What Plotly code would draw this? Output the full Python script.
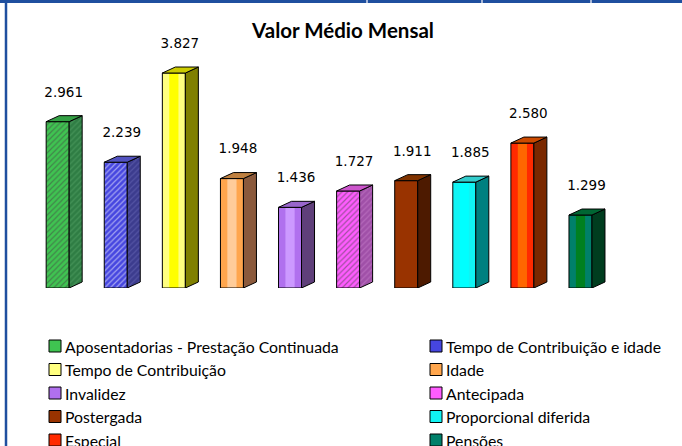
import plotly.graph_objects as go

# ---- data ----
categories = [
    "Aposentadorias - Prestação Continuada",
    "Tempo de Contribuição e idade",
    "Tempo de Contribuição",
    "Idade",
    "Invalidez",
    "Antecipada",
    "Postergada",
    "Proporcional diferida",
    "Especial",
    "Pensões",
]
values = [2961, 2239, 3827, 1948, 1436, 1727, 1911, 1885, 2580, 1299]
title_text = "Valor Médio Mensal"

# ---- styles ----
front_colors = ["#3fc451", "#4646e0", "#ffff80", "#ffa64d", "#b070ee",
                "#ff5cff", "#993300", "#10f4f4", "#ff2a00", "#00806a"]
stripe_colors = [None, None, "#ffff00", "#ffcc99", "#cc99ff",
                 None, None, "#00ffff", "#ff6600", "#008020"]
hatched = [True, True, False, False, False, True, False, False, False, False]
hatch_fg = ["#8ee89a", "#8c8cf0", "#ffffff", "#ffffff", "#ffffff",
            "#ffaaff", "#ffffff", "#ffffff", "#ffffff", "#ffffff"]
side_colors = ["#2f7d44", "#3c3c8e", "#808000", "#8b5a3c", "#5f3f7a",
               "#a050a8", "#4d1a00", "#008080", "#7a2800", "#003d1f"]
side_hatch = ["#5aa86a", "#6a6ab8", None, None, None, "#c880cc", None, None, None, None]
top_colors = ["#33a044", "#5252c0", "#cccc00", "#bf8040", "#9966cc",
              "#cc55cc", "#803300", "#33cccc", "#cc4a00", "#006633"]

W, H = 682, 446
PL, PR, PT, PB = 17, 656, 36, 288
XMIN, XMAX = -0.7, 10.3
YMAX = 4486

unit_x = (PR - PL) / (XMAX - XMIN)
unit_y = (PB - PT) / YMAX
bw = 23 / unit_x        # front width
dx = 13 / unit_x        # depth offset x
dy = 6 / unit_y         # depth offset y


def px_x(px):
    return (px - PL) / (PR - PL)


def px_y(py):
    return (PB - py) / (PB - PT)


idx = list(range(len(values)))
fig = go.Figure()

# front faces
fig.add_trace(go.Bar(
    x=idx, y=values, width=bw,
    marker=dict(color=front_colors, line=dict(width=0),
                pattern=dict(shape=["/" if h else "" for h in hatched],
                             fgcolor=hatch_fg, size=4, solidity=0.3)),
    showlegend=False, hoverinfo="skip"))

# gradient highlight stripes
s_idx = [i for i in idx if stripe_colors[i]]
fig.add_trace(go.Bar(
    x=s_idx, y=[values[i] for i in s_idx], width=bw * 0.4,
    marker=dict(color=[stripe_colors[i] for i in s_idx], line=dict(width=0)),
    showlegend=False, hoverinfo="skip"))

# outlines
fig.add_trace(go.Bar(
    x=idx, y=values, width=bw,
    marker=dict(color="rgba(0,0,0,0)", line=dict(color="black", width=1)),
    showlegend=False, hoverinfo="skip"))

# side and top faces
for i, v in enumerate(values):
    x0 = i + bw / 2
    side = dict(
        x=[x0, x0 + dx, x0 + dx, x0, x0],
        y=[0, dy, v + dy, v, 0],
        mode="lines", fill="toself", fillcolor=side_colors[i],
        line=dict(color="black", width=1),
        showlegend=False, hoverinfo="skip")
    if side_hatch[i]:
        side["fillpattern"] = dict(shape="/", fgcolor=side_hatch[i],
                                   bgcolor=side_colors[i], size=4, solidity=0.3)
    fig.add_trace(go.Scatter(**side))
    xl = i - bw / 2
    fig.add_trace(go.Scatter(
        x=[xl, xl + dx, x0 + dx, x0, xl],
        y=[v, v + dy, v + dy, v, v],
        mode="lines", fill="toself", fillcolor=top_colors[i],
        line=dict(color="black", width=1),
        showlegend=False, hoverinfo="skip"))

# data labels
fig.add_trace(go.Scatter(
    x=[i + 6 / unit_x for i in idx],
    y=[v + 28.5 / unit_y for v in values],
    mode="text",
    text=[f"{v:,}".replace(",", ".") for v in values],
    textposition="middle center",
    textfont=dict(family="DejaVu Sans", size=13.5, color="#000000"),
    cliponaxis=False, showlegend=False, hoverinfo="skip"))

shapes = []
annotations = []

# custom legend (two columns)
for k, name in enumerate(categories):
    row, col = divmod(k, 2)
    cx = [49, 430][col]
    cy = 346 + 23.5 * row
    shapes.append(dict(type="rect", xref="paper", yref="paper",
                       x0=px_x(cx), x1=px_x(cx + 12),
                       y0=px_y(cy + 6), y1=px_y(cy - 6),
                       fillcolor=front_colors[k],
                       line=dict(color="black", width=1)))
    annotations.append(dict(xref="paper", yref="paper",
                            x=px_x(cx + 14), y=px_y(cy),
                            xanchor="left", yanchor="middle",
                            text=name, showarrow=False,
                            font=dict(family="Lato", size=15.8, color="black")))

# frame borders
shapes.append(dict(type="line", xref="paper", yref="paper",
                   x0=px_x(0), x1=px_x(W), y0=px_y(1.5), y1=px_y(1.5),
                   line=dict(color="#1f4f9f", width=3)))
shapes.append(dict(type="line", xref="paper", yref="paper",
                   x0=px_x(6), x1=px_x(6), y0=px_y(0), y1=px_y(H),
                   line=dict(color="#1f4f9f", width=2.5)))
for gx in [367, 482, 591]:
    shapes.append(dict(type="line", xref="paper", yref="paper",
                       x0=px_x(gx), x1=px_x(gx), y0=px_y(0), y1=px_y(3),
                       line=dict(color="#a8b8d8", width=2)))

fig.update_layout(
    width=W, height=H,
    margin=dict(l=PL, r=W - PR, t=PT, b=H - PB, pad=0),
    paper_bgcolor="white", plot_bgcolor="white",
    barmode="overlay",
    title=dict(text="<b>" + title_text + "</b>", x=343 / W, xref="container",
               xanchor="center", y=1 - 31 / H, yref="container", yanchor="middle",
               font=dict(family="Lato", size=20.5, color="black")),
    xaxis=dict(range=[XMIN, XMAX], visible=False, fixedrange=True),
    yaxis=dict(range=[0, YMAX], visible=False, fixedrange=True),
    shapes=shapes, annotations=annotations,
    showlegend=False,
)

fig.write_html("out.html", config={"displayModeBar": False},
               post_script="document.body.style.margin='0px';")
